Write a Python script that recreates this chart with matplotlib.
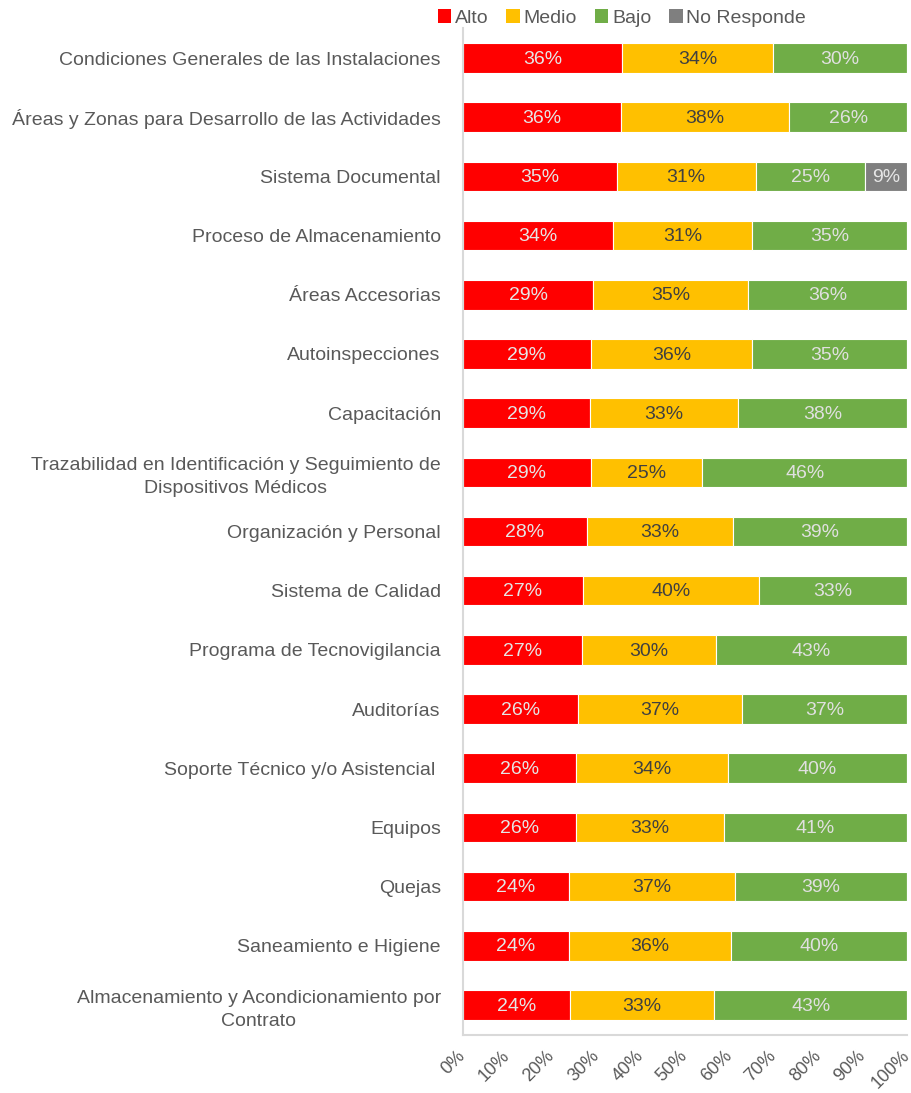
import matplotlib
matplotlib.use("Agg")
import matplotlib.pyplot as plt
import matplotlib.transforms as mtransforms
from matplotlib.patches import Patch
import numpy as np

categories = [
    "Condiciones Generales de las Instalaciones",
    "Áreas y Zonas para Desarrollo de las Actividades",
    "Sistema Documental",
    "Proceso de Almacenamiento",
    "Áreas Accesorias",
    "Autoinspecciones",
    "Capacitación",
    "Trazabilidad en Identificación y Seguimiento de\nDispositivos Médicos",
    "Organización y Personal",
    "Sistema de Calidad",
    "Programa de Tecnovigilancia",
    "Auditorías",
    "Soporte Técnico y/o Asistencial ",
    "Equipos",
    "Quejas",
    "Saneamiento e Higiene",
    "Almacenamiento y Acondicionamiento por\nContrato",
]
alto = [35.8, 35.5, 34.6, 33.8, 29.3, 28.8, 28.6, 28.8, 27.9, 27.0, 26.8, 25.9, 25.5, 25.5, 23.9, 23.9, 24.0]
medio = [34.1, 38.0, 31.3, 31.3, 34.9, 36.3, 33.3, 25.1, 33.0, 39.6, 30.2, 36.9, 34.2, 33.3, 37.4, 36.5, 32.6]
bajo = [30.1, 26.5, 24.7, 34.9, 35.8, 34.9, 38.1, 46.1, 39.1, 33.4, 43.0, 37.2, 40.3, 41.2, 38.7, 39.6, 43.4]
no_responde = [0, 0, 9.4, 0, 0, 0, 0, 0, 0, 0, 0, 0, 0, 0, 0, 0, 0]
series_names = ["Alto", "Medio", "Bajo", "No Responde"]
xticks = [0, 10, 20, 30, 40, 50, 60, 70, 80, 90, 100]

colors = ["#FF0000", "#FFC000", "#70AD47", "#7F7F7F"]
label_colors = ["#E6E6E6", "#404040", "#E0E0E0", "#E6E6E6"]
txt = "#595959"
plt.rcParams['font.family'] = ['Liberation Sans', 'DejaVu Sans']

W, H = 912, 1093
fig = plt.figure(figsize=(W / 100, H / 100), dpi=100)
ax = fig.add_axes([463 / W, 1 - 1034.5 / H, 444 / W, (1034.5 - 28.5) / H])

y = np.arange(len(categories))
left = np.zeros(len(categories))
for name, vals, c, lc in zip(series_names, [alto, medio, bajo, no_responde], colors, label_colors):
    vals = np.array(vals, dtype=float)
    ax.barh(y, vals, left=left, height=0.5, color=c, edgecolor="white", linewidth=0.8, label=name)
    for yi, l, v in zip(y, left, vals):
        if v > 0:
            ax.text(l + v / 2, yi + 0.02, f"{round(v):.0f}%", ha="center", va="center",
                    color=lc, fontsize=14)
    left += vals

ax.set_xlim(0, 100)
ax.set_ylim(len(categories) - 0.5, -0.5)
ax.tick_params(axis="both", length=0)
ax.tick_params(axis="y", pad=16)
ax.tick_params(axis="x", pad=9)
ax.set_yticks(y)
ax.set_yticklabels(categories, fontsize=14, color=txt, multialignment="center", linespacing=1.45)
ax.set_xticks(xticks)
ax.set_xticklabels([f"{v}%" for v in xticks], rotation=45, ha="right", va="top",
                   rotation_mode="anchor", fontsize=13, color=txt)
offset = mtransforms.ScaledTranslation(-6 / 100, 0, fig.dpi_scale_trans)
for lbl in ax.get_xticklabels():
    lbl.set_transform(lbl.get_transform() + offset)
for s in ["top", "right"]:
    ax.spines[s].set_visible(False)
for s in ["left", "bottom"]:
    ax.spines[s].set_color("#D9D9D9")
    ax.spines[s].set_linewidth(1.5)

handles = [Patch(facecolor=c, edgecolor="none") for c in colors]
fig.legend(handles, series_names, loc="center", bbox_to_anchor=(622 / W, 1 - 18 / H),
           ncol=4, frameon=False, fontsize=14, labelcolor=txt,
           handlelength=0.7, handleheight=0.7, handletextpad=0.2, columnspacing=0.9)

fig.savefig("out.png", dpi=100)
